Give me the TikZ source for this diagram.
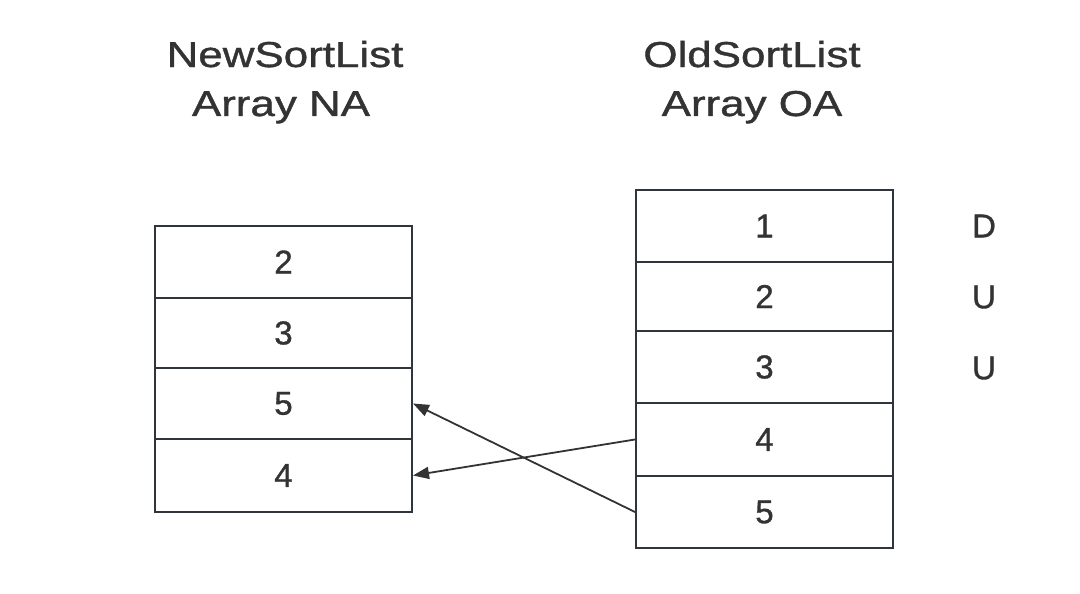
\documentclass[tikz,border=0pt]{standalone}
\usepackage{fontspec}
\setmainfont{Liberation Sans}[AutoFakeBold=1.0]
\usetikzlibrary{arrows.meta}
\definecolor{ink}{HTML}{333333}
\definecolor{boxline}{HTML}{30353B}
\tikzset{
  cell/.style={draw=boxline, line width=2pt, minimum width=257pt, inner sep=0pt, text=ink, font=\fontsize{33}{40}\selectfont\bfseries},
  ttl/.style={text=ink, font=\fontsize{36}{40}\selectfont\bfseries, anchor=base, inner sep=0pt},
  flag/.style={text=ink, font=\fontsize{33}{40}\selectfont\bfseries},
  link/.style={draw=ink, line width=1.8pt, -{Triangle[length=16pt,width=12pt]}}
}
\newcommand{\wide}[1]{\scalebox{1.22}[1]{#1}}
\begin{document}
\begin{tikzpicture}[x=1pt,y=-1pt]
\useasboundingbox (0,0) rectangle (1080,594);
% titles
\node[ttl] (t1a) at (285,67) {\wide{NewSortList}};
\node[ttl] (t1b) at (281,116) {\wide{Array NA}};
\node[ttl] (t2a) at (752,67) {\wide{OldSortList}};
\node[ttl] (t2b) at (752,116) {\wide{Array OA}};
% NA cells
\node[cell, minimum height=72pt] (n1) at (283.5,262) {2};
\node[cell, minimum height=70pt] (n2) at (283.5,333) {3};
\node[cell, minimum height=71pt] (n3) at (283.5,403.5) {5};
\node[cell, minimum height=73pt] (n4) at (283.5,475.5) {4};
% OA cells
\node[cell, minimum height=72pt] (o1) at (764.5,226) {1};
\node[cell, minimum height=69pt] (o2) at (764.5,296.5) {2};
\node[cell, minimum height=72pt] (o3) at (764.5,367) {3};
\node[cell, minimum height=73pt] (o4) at (764.5,439.5) {4};
\node[cell, minimum height=72pt] (o5) at (764.5,512) {5};
% flags
\node[flag] (m1) at (984,226) {D};
\node[flag] (m2) at (984,297) {U};
\node[flag] (m3) at (984,368) {U};
% links
\draw[link] (o4.west) -- (n4.east);
\draw[link] (o5.west) -- (n3.east);
\end{tikzpicture}
\end{document}
